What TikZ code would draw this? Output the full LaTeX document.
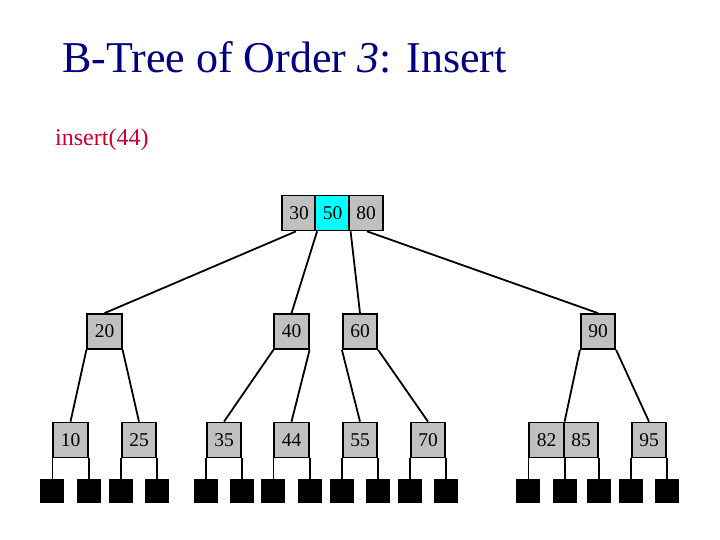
\documentclass[tikz,border=0pt]{standalone}
\usepackage{fontspec}
\setmainfont{Liberation Serif}
\definecolor{titleblue}{RGB}{0,0,128}
\definecolor{insred}{RGB}{204,0,51}
\definecolor{keygray}{RGB}{192,192,192}
\definecolor{keycyan}{RGB}{0,255,255}
\tikzset{
  keycell/.style={draw=black, line width=1.7pt, fill=keygray, minimum width=34.5pt, minimum height=35pt, inner sep=0pt, font=\fontsize{19.5}{22}\selectfont},
  hotcell/.style={keycell, fill=keycyan},
  extsq/.style={fill=black, draw=none, minimum width=24pt, minimum height=24pt, inner sep=0pt},
  link/.style={line width=1.8pt, black}
}
\begin{document}
\begin{tikzpicture}[x=1pt,y=-1pt]
\useasboundingbox (0,0) rectangle (720,540);
% title and label
\node[anchor=base west, inner sep=0pt, text=titleblue, font=\fontsize{44}{50}\selectfont] (title) at (62,73) {B-Tree of Order \textit{3}: Insert};
\node[anchor=base west, inner sep=0pt, text=insred, font=\fontsize{24}{28}\selectfont] (ins) at (55,146) {insert(44)};
% links drawn first so boxes sit on top
\coordinate (sqrow) at (0,491);
% root
\node[keycell] (r1) at (299,213) {30};
\node[hotcell] (r2) at (332.5,213) {50};
\node[keycell] (r3) at (366,213) {80};
% level 2
\node[keycell] (n20) at (104.5,331.5) {20};
\node[keycell] (n40) at (291.5,331.5) {40};
\node[keycell] (n60) at (360,331.5) {60};
\node[keycell] (n90) at (598,331.5) {90};
% level 3
\node[keycell] (l10) at (70.5,440) {10};
\node[keycell] (l25) at (139,440) {25};
\node[keycell] (l35) at (224,440) {35};
\node[keycell] (l44) at (291.5,440) {44};
\node[keycell] (l55) at (360,440) {55};
\node[keycell] (l70) at (428,440) {70};
\node[keycell] (l82) at (546.5,440) {82};
\node[keycell] (l85) at (581,440) {85};
\node[keycell] (l95) at (649,440) {95};
% external nodes
\node[extsq] (s1) at (l10.south west |- sqrow) {};
\node[extsq] (s2) at (l10.south east |- sqrow) {};
\node[extsq] (s3) at (l25.south west |- sqrow) {};
\node[extsq] (s4) at (l25.south east |- sqrow) {};
\node[extsq] (s5) at (l35.south west |- sqrow) {};
\node[extsq] (s6) at (l35.south east |- sqrow) {};
\node[extsq] (s7) at (l44.south west |- sqrow) {};
\node[extsq] (s8) at (l44.south east |- sqrow) {};
\node[extsq] (s9) at (l55.south west |- sqrow) {};
\node[extsq] (s10) at (l55.south east |- sqrow) {};
\node[extsq] (s11) at (l70.south west |- sqrow) {};
\node[extsq] (s12) at (l70.south east |- sqrow) {};
\node[extsq] (s13) at (l82.south west |- sqrow) {};
\node[extsq] (s14) at (l82.south east |- sqrow) {};
\node[extsq] (s15) at (l85.south east |- sqrow) {};
\node[extsq] (s16) at (l95.south west |- sqrow) {};
\node[extsq] (s17) at (l95.south east |- sqrow) {};
% root links
\draw[link] ([xshift=-3pt]r1.south) -- (n20.north);
\draw[link] (r1.south east) -- (n40.north);
\draw[link] (r2.south east) -- (n60.north);
\draw[link] ([xshift=1pt]r3.south) -- (n90.north);
% level 2 links
\draw[link] (n20.south west) -- (l10.north);
\draw[link] (n20.south east) -- (l25.north);
\draw[link] (n40.south west) -- (l35.north);
\draw[link] (n40.south east) -- (l44.north);
\draw[link] (n60.south west) -- (l55.north);
\draw[link] (n60.south east) -- (l70.north);
\draw[link] (n90.south west) -- (l82.north east);
\draw[link] (n90.south east) -- (l95.north);
% leaf links
\draw[link] (l10.south west) -- (s1.north);
\draw[link] (l10.south east) -- (s2.north);
\draw[link] (l25.south west) -- (s3.north);
\draw[link] (l25.south east) -- (s4.north);
\draw[link] (l35.south west) -- (s5.north);
\draw[link] (l35.south east) -- (s6.north);
\draw[link] (l44.south west) -- (s7.north);
\draw[link] (l44.south east) -- (s8.north);
\draw[link] (l55.south west) -- (s9.north);
\draw[link] (l55.south east) -- (s10.north);
\draw[link] (l70.south west) -- (s11.north);
\draw[link] (l70.south east) -- (s12.north);
\draw[link] (l82.south west) -- (s13.north);
\draw[link] (l82.south east) -- (s14.north);
\draw[link] (l85.south east) -- (s15.north);
\draw[link] (l95.south west) -- (s16.north);
\draw[link] (l95.south east) -- (s17.north);
\end{tikzpicture}
\end{document}
